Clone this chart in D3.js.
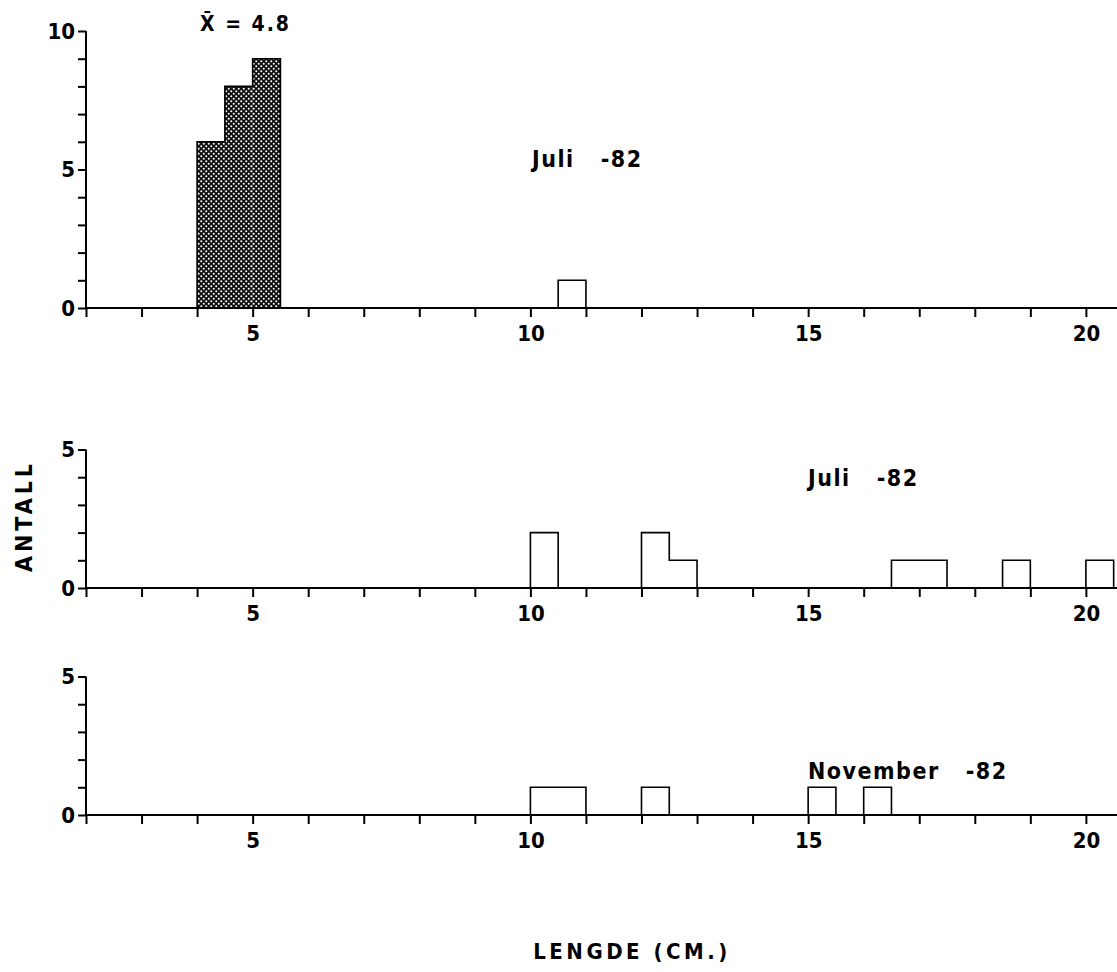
<!DOCTYPE html>
<html>
<head>
<meta charset="utf-8">
<script src="https://cdn.jsdelivr.net/npm/d3@7"></script>
<style>
  body { margin: 0; background: #fff; }
  svg { display: block; }
  .axis text { font-family: "Liberation Sans Narrow", "DejaVu Sans Condensed", "Liberation Sans", sans-serif; font-weight: bold; font-size: 22px; fill: #000; }
  .axis path, .axis line { stroke: #000; stroke-width: 2; }
  .lbl { font-family: "Liberation Sans Narrow", "DejaVu Sans Condensed", "Liberation Sans", sans-serif; font-weight: bold; fill: #000; }
</style>
</head>
<body>
<div id="chart"></div>
<script>
// length classes (cm) and counts
const lengthTicks = d3.range(2, 21);
const labelTicks = [5, 10, 15, 20];

// panel 1 : Juli -82 (shaded group + one open bar)
const p1Start = [4, 4.5, 5, 10.5];
const p1End   = [4.5, 5, 5.5, 11];
const p1Count = [6, 8, 9, 1];
const p1Shade = [true, true, true, false];

// panel 2 : Juli -82
const p2Start = [10, 12, 12.5, 16.5, 18.5, 20];
const p2End   = [10.5, 12.5, 13, 17.5, 19, 20.5];
const p2Count = [2, 2, 1, 1, 1, 1];

// panel 3 : November -82
const p3Start = [10, 12, 15, 16];
const p3End   = [11, 12.5, 15.5, 16.5];
const p3Count = [1, 1, 1, 1];

const width = 1117, height = 972;
const svg = d3.select("#chart").append("svg")
    .attr("width", width).attr("height", height);

// crosshatch fill for the shaded bars
const pat = svg.append("defs").append("pattern")
    .attr("id", "hatch").attr("patternUnits", "userSpaceOnUse")
    .attr("width", 5).attr("height", 5);
pat.append("rect").attr("width", 5).attr("height", 5).attr("fill", "#111");
pat.append("circle").attr("cx", 1.25).attr("cy", 1.25).attr("r", 1).attr("fill", "#fff");
pat.append("circle").attr("cx", 3.75).attr("cy", 3.75).attr("r", 1).attr("fill", "#fff");

const x = d3.scaleLinear().domain([2, 20.56]).range([86, 1117]);

function panel(starts, ends, counts, shade, yMax, y0px, title, titleX, titleY) {
    const y = d3.scaleLinear().domain([0, yMax]).range([y0px, y0px - yMax * 27.7]);
    const g = svg.append("g");

    const bins = starts.map((s, i) => ({ s: s, e: ends[i], n: counts[i], shade: shade ? shade[i] : false }));

    // fills
    g.selectAll("rect.bar").data(bins.filter(d => d.shade)).join("rect")
        .attr("class", "bar")
        .attr("x", d => x(d.s)).attr("width", d => x(d.e) - x(d.s))
        .attr("y", d => y(d.n)).attr("height", d => y(0) - y(d.n))
        .attr("fill", "url(#hatch)");

    // histogram outline
    const p = d3.path();
    let prevEnd = null;
    bins.forEach((d, i) => {
        if (prevEnd === null || d.s !== prevEnd) {
            p.moveTo(x(d.s), y(0));
        }
        p.lineTo(x(d.s), y(d.n));
        p.lineTo(x(d.e), y(d.n));
        const next = bins[i + 1];
        if (!next || next.s !== d.e) p.lineTo(x(d.e), y(0));
        prevEnd = d.e;
    });
    g.append("path").attr("d", p.toString())
        .attr("fill", "none").attr("stroke", "#000").attr("stroke-width", 1.6);

    g.append("g").attr("class", "axis")
        .attr("transform", "translate(0," + y0px + ")")
        .call(d3.axisBottom(x).tickValues(lengthTicks).tickSize(9).tickPadding(8)
            .tickFormat(d => labelTicks.includes(d) ? d : ""))
        .call(a => a.select(".domain").attr("d", "M" + x(2) + ",0H" + x(20.56)));

    g.append("g").attr("class", "axis")
        .attr("transform", "translate(" + x(2) + ",0)")
        .call(d3.axisLeft(y).tickValues(d3.range(0, yMax + 1)).tickSize(8).tickPadding(3)
            .tickFormat(d => d % 5 === 0 ? d : ""))
        .call(a => a.select(".domain").attr("d", "M0," + y(0) + "V" + y(yMax)));

    svg.append("text").attr("class", "lbl")
        .attr("x", titleX).attr("y", titleY)
        .attr("font-size", 23).attr("letter-spacing", 1.5)
        .attr("xml:space", "preserve")
        .text(title);
}

panel(p1Start, p1End, p1Count, p1Shade, 10, 308, "Juli   -82", 532, 167);
panel(p2Start, p2End, p2Count, null, 5, 588, "Juli   -82", 808, 486);
panel(p3Start, p3End, p3Count, null, 5, 815, "November   -82", 808, 779);

svg.append("text").attr("class", "lbl")
    .attr("x", 200).attr("y", 31).attr("font-size", 21)
    .attr("letter-spacing", 2)
    .attr("xml:space", "preserve")
    .text("X\u0304 = 4.8");

svg.append("text").attr("class", "lbl")
    .attr("transform", "translate(32,516) rotate(-90)")
    .attr("text-anchor", "middle")
    .attr("font-size", 23).attr("letter-spacing", 4)
    .text("ANTALL");

svg.append("text").attr("class", "lbl")
    .attr("x", 632).attr("y", 959)
    .attr("text-anchor", "middle")
    .attr("font-size", 22).attr("letter-spacing", 3.5)
    .text("LENGDE (CM.)");
</script>
</body>
</html>
